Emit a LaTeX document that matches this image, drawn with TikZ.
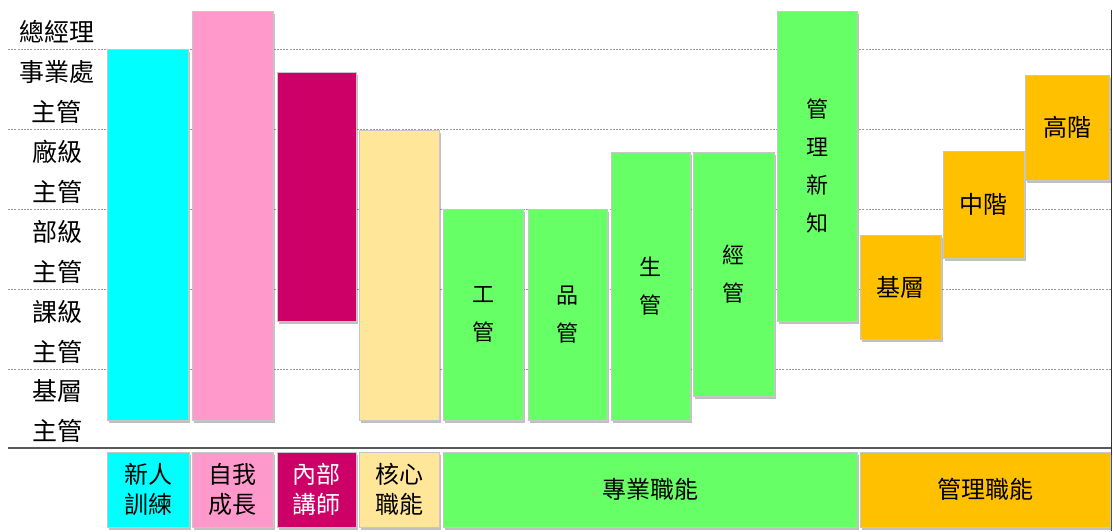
\documentclass[tikz,border=0pt]{standalone}
\usepackage{fontspec}
\setmainfont{Noto Sans CJK TC}
\usetikzlibrary{shadows}
\definecolor{cCyan}{HTML}{00FFFF}
\definecolor{cPink}{HTML}{FF99CC}
\definecolor{cMag}{HTML}{CC0066}
\definecolor{cYel}{HTML}{FFE699}
\definecolor{cGreen}{HTML}{66FF66}
\definecolor{cOrange}{HTML}{FFC000}
\tikzset{
  barbox/.style={draw=black!22, line width=0.8pt, inner sep=0pt, outer sep=0pt,
    anchor=north west, align=center,
    drop shadow={shadow xshift=2pt, shadow yshift=-3pt, opacity=0.45, fill=black!55}},
  lvl/.style={font=\fontsize{25}{40}\selectfont, align=center, inner sep=0pt},
  bt/.style={font=\fontsize{22}{38}\selectfont},
  ot/.style={font=\fontsize{24}{30}\selectfont},
  lt/.style={font=\fontsize{24}{30}\selectfont},
  grid/.style={draw=black!40, line width=0.6pt, dash pattern=on 2pt off 1.2pt},
  base/.style={draw=black!65, line width=1.3pt},
}
\begin{document}
\begin{tikzpicture}[x=1pt,y=-1pt]
\useasboundingbox (0,0) rectangle (1113,531);
% guide lines
\coordinate (gl1) at (8,49);   \coordinate (gr1) at (1111,49);
\coordinate (gl2) at (8,129);  \coordinate (gr2) at (1111,129);
\coordinate (gl3) at (8,209);  \coordinate (gr3) at (1111,209);
\coordinate (gl4) at (8,289);  \coordinate (gr4) at (1111,289);
\coordinate (gl5) at (8,369);  \coordinate (gr5) at (1111,369);
\coordinate (bl) at (8,448);   \coordinate (br) at (1111,448);
\coordinate (rt) at (1111.5,10); \coordinate (rb) at (1111.5,531);
\foreach \i in {1,...,5} \draw[grid] (gl\i) -- (gr\i);
\draw[base] (bl) -- (br);
\draw[draw=black!80, line width=1.2pt] (rt) -- (rb);
% level labels
\node[lvl] (l0) at (57,32) {總經理};
\node[lvl] (l1) at (57,91.5) {事業處\\主管};
\node[lvl] (l2) at (57,172) {廠級\\主管};
\node[lvl] (l3) at (57,251.5) {部級\\主管};
\node[lvl] (l4) at (57,331.5) {課級\\主管};
\node[lvl] (l5) at (57,411.5) {基層\\主管};
% bars
\node[barbox, fill=cCyan, minimum width=81pt, minimum height=371pt] (cyanbar) at (107,49) {};
\node[barbox, fill=cPink, minimum width=81pt, minimum height=409pt] (pinkbar) at (192,11) {};
\node[barbox, fill=cMag, minimum width=79pt, minimum height=249pt] (magbar) at (277,72) {};
\node[barbox, fill=cYel, minimum width=80pt, minimum height=290pt] (yelbar) at (359,130) {};
\node[barbox, fill=cGreen, minimum width=80pt, minimum height=211pt, bt] (gongbar) at (443,209) {工\\管};
\node[barbox, fill=cGreen, minimum width=79pt, minimum height=211pt, bt] (pinbar) at (528,209) {品\\管};
\node[barbox, fill=cGreen, minimum width=79pt, minimum height=268pt, bt] (shengbar) at (611,152) {生\\管};
\node[barbox, fill=cGreen, minimum width=81pt, minimum height=244pt, bt] (jingbar) at (693,152) {經\\管};
\node[barbox, fill=cGreen, minimum width=80pt, minimum height=310pt, bt] (xinzhibar) at (777,11) {管\\理\\新\\知};
\node[barbox, fill=cOrange, minimum width=81pt, minimum height=104pt, ot] (jicengbar) at (860,235) {基層};
\node[barbox, fill=cOrange, minimum width=81pt, minimum height=107pt, ot] (zhongbar) at (943,151) {中階};
\node[barbox, fill=cOrange, minimum width=84pt, minimum height=105pt, ot] (gaobar) at (1025,75) {高階};
% bottom category boxes
\node[barbox, fill=cCyan, minimum width=82pt, minimum height=75pt, lt] (xinren) at (107,452) {新人\\訓練};
\node[barbox, fill=cPink, minimum width=81pt, minimum height=75pt, lt] (ziwo) at (192,452) {自我\\成長};
\node[barbox, fill=cMag, minimum width=79pt, minimum height=75pt, lt, text=white] (neibu) at (277,452) {內部\\講師};
\node[barbox, fill=cYel, minimum width=80pt, minimum height=75pt, lt] (hexin) at (359,452) {核心\\職能};
\node[barbox, fill=cGreen, minimum width=414pt, minimum height=75pt, lt] (zhuanye) at (443,452) {專業職能};
\node[barbox, fill=cOrange, minimum width=250pt, minimum height=75pt, lt] (guanli) at (860,452) {管理職能};
\end{tikzpicture}
\end{document}
